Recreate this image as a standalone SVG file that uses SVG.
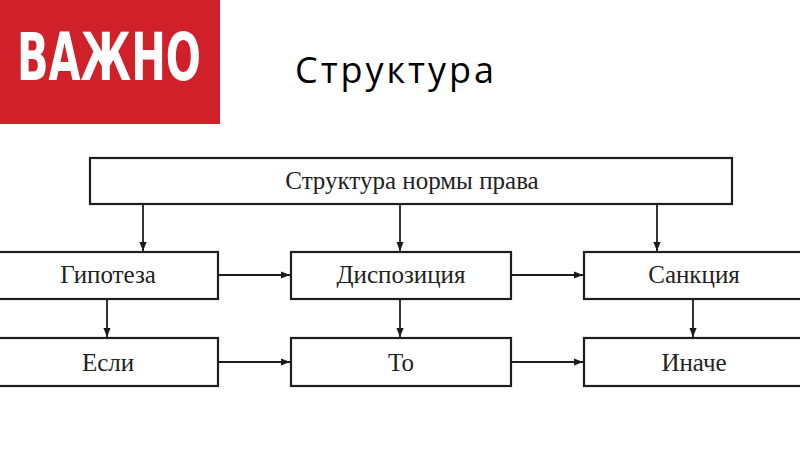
<svg xmlns="http://www.w3.org/2000/svg" width="800" height="449" viewBox="0 0 800 449">
<defs>
<marker id="ah" viewBox="0 0 10 10" refX="10" refY="5" markerWidth="5" markerHeight="5" orient="auto" markerUnits="strokeWidth">
<path d="M0,1 L10,5 L0,9 z" fill="#1a1a1a"/>
</marker>
</defs>
<style>
.box{fill:#fff;stroke:#1e1e1e;stroke-width:2.2}
.lbl{font-family:"Liberation Serif","DejaVu Serif",serif;font-size:25px;fill:#222;text-anchor:middle}
.c{stroke:#1e1e1e;stroke-width:1.8;fill:none;marker-end:url(#ah)}
</style>
<rect width="800" height="449" fill="#fff"/>
<g id="badge">
<rect x="0" y="0" width="220" height="124" fill="#d0202a"/>
<text x="109" y="80" font-family="'DejaVu Sans','Liberation Sans',sans-serif" font-weight="bold" font-size="66" fill="#fff" text-anchor="middle" textLength="184" lengthAdjust="spacingAndGlyphs">ВАЖНО</text>
</g>
<g id="title">
<text x="295" y="83" font-family="'Open Sans','Liberation Sans',sans-serif" font-size="36" fill="#000" textLength="199" lengthAdjust="spacing">Структура</text>
</g>
<g id="n-root">
<rect class="box" x="90" y="158" width="642" height="46"/>
<text class="lbl" x="412" y="189">Структура нормы права</text>
</g>
<g id="n-gip">
<rect class="box" x="-2" y="252" width="220" height="47"/>
<text class="lbl" x="108" y="283">Гипотеза</text>
</g>
<g id="n-disp">
<rect class="box" x="291" y="252" width="220" height="47"/>
<text class="lbl" x="401" y="283">Диспозиция</text>
</g>
<g id="n-sank">
<rect class="box" x="584" y="252" width="218" height="47"/>
<text class="lbl" x="694" y="283">Санкция</text>
</g>
<g id="n-esli">
<rect class="box" x="-2" y="338" width="220" height="48"/>
<text class="lbl" x="108" y="371">Если</text>
</g>
<g id="n-to">
<rect class="box" x="291" y="338" width="220" height="48"/>
<text class="lbl" x="401" y="371">То</text>
</g>
<g id="n-inache">
<rect class="box" x="584" y="338" width="218" height="48"/>
<text class="lbl" x="694" y="371">Иначе</text>
</g>
<g id="connectors">
<line class="c" x1="143" y1="205" x2="143" y2="251"/>
<line class="c" x1="400" y1="205" x2="400" y2="251"/>
<line class="c" x1="657" y1="205" x2="657" y2="251"/>
<line class="c" x1="107" y1="300" x2="107" y2="337"/>
<line class="c" x1="400" y1="300" x2="400" y2="337"/>
<line class="c" x1="693" y1="300" x2="693" y2="337"/>
<line class="c" x1="219" y1="275" x2="290" y2="275"/>
<line class="c" x1="512" y1="275" x2="583" y2="275"/>
<line class="c" x1="219" y1="362" x2="290" y2="362"/>
<line class="c" x1="512" y1="362" x2="583" y2="362"/>
</g>
</svg>
